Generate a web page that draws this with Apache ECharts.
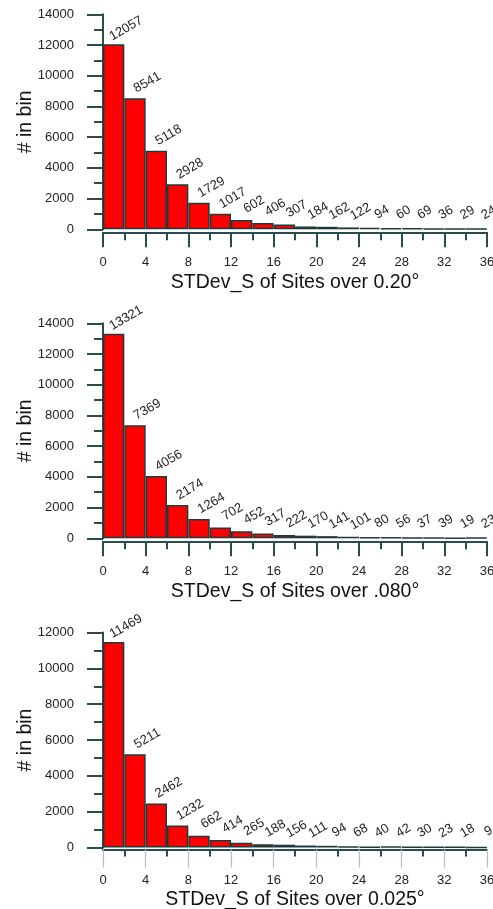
<!DOCTYPE html>
<html>
<head>
<meta charset="utf-8">
<script src="https://cdn.jsdelivr.net/npm/echarts@6/dist/echarts.min.js"></script>
<style>html,body{margin:0;padding:0;background:#fff}#c{width:493px;height:909px}</style>
</head>
<body>
<div id="c"></div>
<script>
var bins = ['0-2','2-4','4-6','6-8','8-10','10-12','12-14','14-16','16-18','18-20','20-22','22-24','24-26','26-28','28-30','30-32','32-34','34-36'];
var counts020 = [12057, 8541, 5118, 2928, 1729, 1017, 602, 406, 307, 184, 162, 122, 94, 60, 69, 36, 29, 24];
var counts080 = [13321, 7369, 4056, 2174, 1264, 702, 452, 317, 222, 170, 141, 101, 80, 56, 37, 39, 19, 23];
var counts025 = [11469, 5211, 2462, 1232, 662, 414, 265, 188, 156, 111, 94, 68, 40, 42, 30, 23, 18, 9];
var titles = ['STDev_S of Sites over 0.20°', 'STDev_S of Sites over .080°', 'STDev_S of Sites over 0.025°'];
var yMax = [14000, 14000, 12000];
var xTicks = [0, 36, 4];

var font = 'Liberation Sans, Arial, sans-serif';
var axisCol = '#2a4c4c';
var allCounts = [counts020, counts080, counts025];
var tops = [14.3, 323.3, 632.5];
var xOff = [3, 3, 2];
var titleGap = [40, 40, 40];
var plain = function (v) { return String(v); };

var grid = [], xAxis = [], yAxis = [], series = [];
for (var i = 0; i < 3; i++) {
  grid.push({left: 103, right: 6, top: tops[i], height: 215, outerBoundsMode: 'none', containLabel: false});
  xAxis.push({type: 'category', gridIndex: i, data: bins, show: false, boundaryGap: true});
  var last = i === 2;
  xAxis.push({
    type: 'value', gridIndex: i, min: xTicks[0], max: xTicks[1], interval: xTicks[2],
    position: 'bottom', offset: xOff[i],
    name: titles[i], nameLocation: 'middle', nameGap: titleGap[i], nameMoveOverlap: false,
    nameTextStyle: {fontFamily: font, fontSize: 19.5, color: '#111'},
    axisLine: {show: true, lineStyle: {color: axisCol, width: 2}},
    axisTick: {show: true, length: last ? 18 : 15, lineStyle: {color: last ? '#bbbbbb' : axisCol, width: last ? 1.2 : 2}},
    minorTick: {show: true, splitNumber: 2, length: last ? 7 : 8, lineStyle: {color: axisCol, width: 2}},
    axisLabel: {fontFamily: font, fontSize: 13, color: '#222', margin: 24, formatter: plain},
    splitLine: {show: false}
  });
  yAxis.push({
    type: 'value', gridIndex: i, min: 0, max: yMax[i], interval: 2000, offset: 5,
    name: '# in bin', nameLocation: 'middle', nameGap: 62, nameMoveOverlap: false,
    nameTextStyle: {fontFamily: font, fontSize: 19.5, color: '#111'},
    axisLine: {show: true, lineStyle: {color: axisCol, width: 2}},
    axisTick: {show: true, length: 16, lineStyle: {color: axisCol, width: 2}},
    minorTick: {show: true, splitNumber: 2, length: 9, lineStyle: {color: axisCol, width: 2}},
    axisLabel: {fontFamily: font, fontSize: 13, color: '#222', margin: 24, formatter: plain},
    splitLine: {show: false}
  });
  series.push({
    type: 'bar', xAxisIndex: i * 2, yAxisIndex: i, data: allCounts[i],
    barCategoryGap: '0%', barGap: '0%',
    itemStyle: {color: '#ff0000', borderColor: '#1f3a3a', borderWidth: 1.5},
    label: {show: true, position: 'top', rotate: 30, align: 'center', verticalAlign: 'middle',
      offset: [16, -3], fontFamily: font, fontSize: 13, color: '#222', formatter: '{c}'},
    animation: false
  });
}

var chart = echarts.init(document.getElementById('c'), null, {renderer: 'canvas'});
chart.setOption({animation: false, grid: grid, xAxis: xAxis, yAxis: yAxis, series: series});
</script>
</body>
</html>
